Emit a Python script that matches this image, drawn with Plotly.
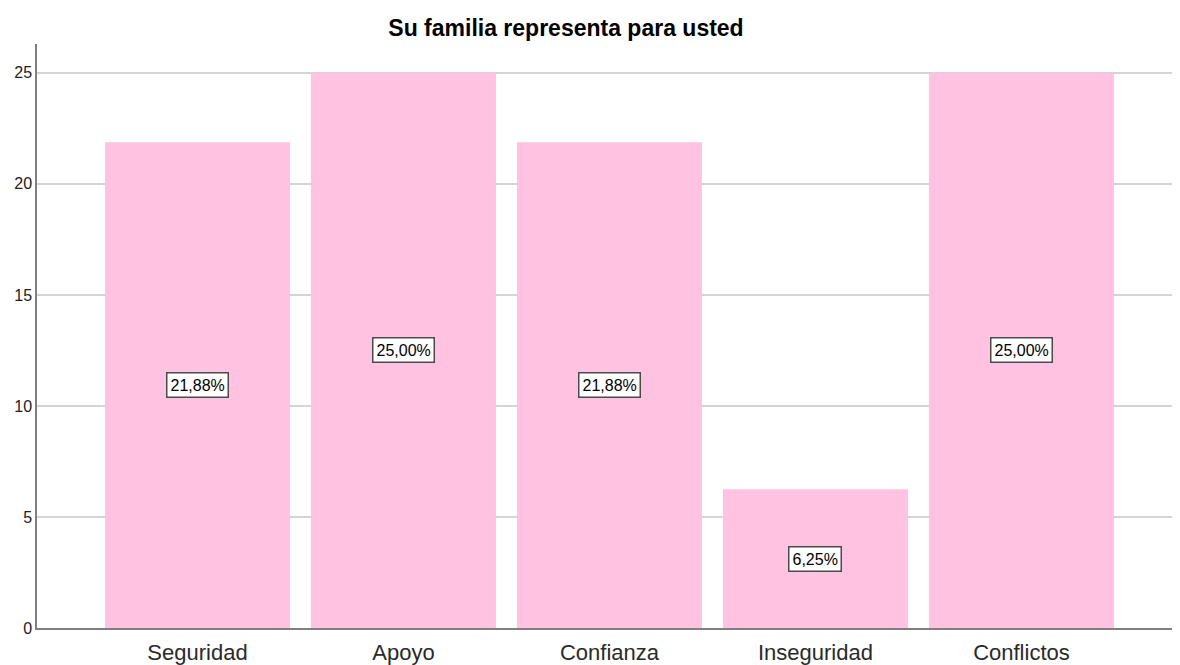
import plotly.graph_objects as go

categories = ["Seguridad", "Apoyo", "Confianza", "Inseguridad", "Conflictos"]
values = [21.88, 25.0, 21.88, 6.25, 25.0]
labels = ["21,88%", "25,00%", "21,88%", "6,25%", "25,00%"]
y_ticks = [0, 5, 10, 15, 20, 25]

x_pos = list(range(len(categories)))
FONT = "Liberation Sans, Arial, sans-serif"

fig = go.Figure()
fig.add_trace(go.Bar(
    x=x_pos, y=values, width=0.898,
    marker=dict(color="#FFC2E1", line=dict(width=0)),
    hoverinfo="skip",
))

for xi, v, lab in zip(x_pos, values, labels):
    fig.add_annotation(
        x=xi, y=v / 2, text=lab, showarrow=False,
        font=dict(family=FONT, size=16, color="#000000"),
        bgcolor="#FFFFFF", bordercolor="#4a4a4a", borderwidth=1.5, borderpad=3,
    )

fig.update_layout(
    width=1172, height=657,
    margin=dict(l=29, r=2, t=36, b=37, autoexpand=False),
    paper_bgcolor="white", plot_bgcolor="white",
    showlegend=False,
    title=dict(text="<b>Su familia representa para usted</b>", x=558 / 1172, xanchor="center",
               xref="container", y=1 - 20 / 657, yanchor="middle",
               font=dict(family=FONT, size=23, color="#000000")),
    font=dict(family=FONT, color="#000000"),
)
fig.update_xaxes(
    range=[-0.779, 4.76], tickmode="array", tickvals=x_pos, ticktext=categories,
    showgrid=False, zeroline=False, showline=True, linecolor="#7f7f7f", linewidth=1.5,
    ticks="", tickfont=dict(size=22, color="#2a2a2a"), automargin=False,
    ticklabelstandoff=4,
)
fig.update_yaxes(
    range=[0, 26.3], tickmode="array", tickvals=y_ticks, ticktext=[str(t) for t in y_ticks],
    showgrid=True, gridcolor="#d4d4d4", gridwidth=2, zeroline=False,
    showline=True, linecolor="#7f7f7f", linewidth=1.5, ticks="",
    tickfont=dict(size=16, color="#222222"), automargin=False,
)

fig.write_html("out.html")
